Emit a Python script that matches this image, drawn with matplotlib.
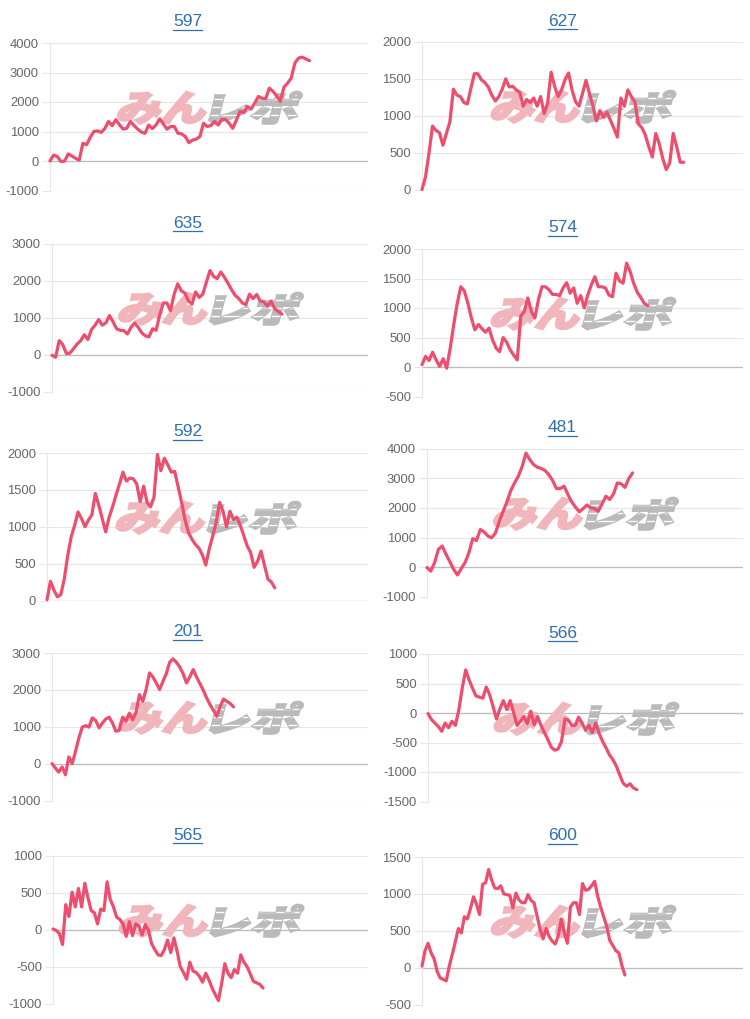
import matplotlib
matplotlib.use("Agg")
import matplotlib.pyplot as plt
from matplotlib.font_manager import FontProperties
from matplotlib.lines import Line2D
from matplotlib.patches import PathPatch
from matplotlib.textpath import TextPath
from matplotlib.transforms import Affine2D, IdentityTransform

plt.rcParams["font.family"] = ["Liberation Sans", "DejaVu Sans"]

W, H = 750, 1019

# ---- datos (saldo acumulado por maquina) ----
names = ["597", "627", "635", "574", "592", "481", "201", "566", "565", "600"]

s597 = [0, 200, 150, -20, 0, 240, 170, 90, 30, 600, 550, 800, 1000, 1020, 970,
        1100, 1340, 1200, 1400, 1230, 1080, 1110, 1340, 1200, 1080, 980, 940,
        1220, 1100, 1220, 1430, 1260, 1080, 1170, 1170, 940, 920, 830, 620, 710,
        740, 830, 1280, 1170, 1200, 1340, 1220, 1410, 1410, 1280, 1110, 1390,
        1680, 1640, 1850, 1760, 1960, 2190, 2130, 2110, 2470, 2360, 2210, 2020,
        2500, 2640, 2810, 3320, 3490, 3520, 3460, 3400]
s627 = [0, 170, 490, 860, 800, 770, 600, 760, 920, 1360, 1280, 1260, 1180, 1160,
        1370, 1570, 1570, 1490, 1450, 1390, 1280, 1200, 1260, 1360, 1500, 1390,
        1400, 1350, 1320, 1130, 1220, 1180, 1240, 1130, 1260, 1030, 1170, 1590,
        1400, 1260, 1350, 1490, 1580, 1350, 1190, 1130, 1300, 1480, 1300, 1130,
        930, 1070, 980, 1050, 940, 830, 710, 1240, 1130, 1350, 1260, 1190, 890,
        840, 740, 580, 440, 760, 620, 420, 270, 360, 760, 580, 370, 370]
s635 = [-20, -70, 380, 270, 30, 40, 160, 290, 380, 540, 410, 680, 800, 950, 800,
        860, 1060, 890, 700, 660, 650, 560, 740, 860, 740, 590, 510, 480, 700,
        660, 1080, 1400, 1400, 1190, 1630, 1920, 1730, 1670, 1460, 1370, 1700,
        1550, 1640, 1970, 2280, 2120, 2060, 2240, 2100, 1940, 1760, 1610, 1520,
        1400, 1360, 1640, 1520, 1630, 1450, 1430, 1310, 1450, 1250, 1170, 1100]
s574 = [40, 180, 110, 250, 120, 10, 140, -20, 320, 720, 1080, 1360, 1290, 1080,
        830, 630, 720, 650, 590, 660, 460, 320, 260, 500, 420, 290, 200, 120, 860,
        940, 1170, 940, 830, 1140, 1360, 1360, 1310, 1230, 1230, 1210, 1340, 1430,
        1250, 1340, 1080, 1210, 1000, 1220, 1390, 1530, 1360, 1360, 1340, 1220,
        1190, 1590, 1460, 1420, 1760, 1620, 1420, 1270, 1180, 1080, 1040]
s592 = [10, 260, 140, 50, 80, 290, 610, 860, 1020, 1200, 1110, 1000, 1090, 1160,
        1450, 1290, 1110, 930, 1130, 1270, 1430, 1580, 1740, 1620, 1660, 1650,
        1580, 1340, 1550, 1330, 1270, 1400, 1980, 1760, 1930, 1840, 1740, 1750,
        1540, 1330, 1090, 920, 830, 760, 710, 620, 480, 700, 870, 1060, 1330,
        1210, 1000, 1210, 1100, 1130, 1020, 880, 740, 650, 450, 530, 670, 480,
        290, 250, 170]
s481 = [-20, -140, 150, 600, 710, 430, 180, -80, -270, -50, 150, 480, 960, 900,
        1270, 1190, 1050, 990, 1160, 1550, 1890, 2210, 2590, 2850, 3080, 3410,
        3860, 3640, 3470, 3380, 3340, 3270, 3130, 2930, 2660, 2660, 2740, 2460,
        2210, 2030, 1870, 1980, 2100, 2010, 1980, 1890, 2140, 2400, 2290, 2480,
        2850, 2820, 2700, 3000, 3190]
s201 = [0, -120, -230, -90, -300, 180, 0, 330, 700, 990, 1030, 990, 1240, 1170,
        970, 1100, 1210, 1260, 1100, 880, 900, 1260, 1150, 1370, 1190, 1390, 1870,
        1690, 2010, 2460, 2350, 2190, 2010, 2230, 2440, 2750, 2840, 2750, 2620,
        2440, 2190, 2350, 2550, 2350, 2170, 1990, 1780, 1600, 1450, 1280, 1540,
        1750, 1690, 1630, 1540]
s566 = [-10, -110, -170, -230, -310, -170, -250, -140, -210, 50, 420, 730, 560,
        420, 290, 270, 250, 440, 310, 110, -100, 70, 210, 60, 210, 10, -210, -140,
        -60, -180, 30, -200, -60, -210, -330, -450, -580, -630, -610, -480, -100,
        -120, -210, -210, -70, -170, -290, -210, -330, -170, -350, -480, -590,
        -710, -790, -900, -1050, -1190, -1240, -1200, -1270, -1300]
s565 = [10, -10, -50, -200, 340, 180, 510, 310, 560, 310, 630, 430, 260, 230, 80,
        280, 260, 650, 410, 310, 170, 140, 80, -90, 110, -80, 80, 50, -70, 70, -10,
        -190, -270, -340, -350, -270, -140, -310, -110, -290, -500, -580, -670,
        -440, -560, -580, -630, -710, -590, -680, -790, -880, -960, -730, -460,
        -590, -650, -540, -590, -340, -440, -500, -600, -700, -720, -740, -790]
s600 = [20, 230, 330, 200, 120, -50, -140, -160, -180, 20, 180, 350, 530, 470,
        690, 660, 800, 960, 860, 720, 1130, 1150, 1330, 1190, 1080, 1070, 1110,
        1000, 990, 980, 810, 1010, 920, 880, 880, 990, 910, 880, 700, 520, 390,
        530, 420, 360, 320, 430, 660, 470, 330, 820, 880, 880, 720, 1140, 1050,
        1060, 1110, 1170, 970, 820, 690, 560, 370, 300, 230, 200, 30, -100]

series = [s597, s627, s635, s574, s592, s481, s201, s566, s565, s600]

y_ticks = [
    [-1000, 0, 1000, 2000, 3000, 4000],
    [0, 500, 1000, 1500, 2000],
    [-1000, 0, 1000, 2000, 3000],
    [-500, 0, 500, 1000, 1500, 2000],
    [0, 500, 1000, 1500, 2000],
    [-1000, 0, 1000, 2000, 3000, 4000],
    [-1000, 0, 1000, 2000, 3000],
    [-1500, -1000, -500, 0, 500, 1000],
    [-1000, -500, 0, 500, 1000],
    [-500, 0, 500, 1000, 1500],
]

# ---- disposicion (pixeles) ----
x_slots = [87, 92, 88, 91, 93, 83, 94, 92, 99, 106]
lefts = [50, 422, 52, 422, 47, 427, 52, 428, 53, 422]
tops = [43, 42, 244, 249, 453, 449, 653, 654, 856, 857]
rights = [368, 743]
alto = 147.5

COLOR_LINEA = "#ee4d6d"
COLOR_TITULO = "#2f6fad"
COLOR_GRID = "#e6e6e6"
COLOR_CERO = "#bcbcbc"

fuente_logo = FontProperties(family="Noto Sans CJK JP", weight="black")


def dibujar_logo(ax, cx, cy):
    """se dibuja la marca de agua (cx, cy en pixeles de pantalla)"""
    h = 32
    ancho = 87
    partes = [("みん", "#f0b6bc", cx - ancho - 2), ("レポ", "#bababa", cx + 3)]
    for texto, color, x0 in partes:
        path = TextPath((0, 0), texto, size=40, prop=fuente_logo)
        ext = path.get_extents()
        tr = (Affine2D().translate(-ext.x0, -ext.y0)
              .scale(ancho / ext.width, h / ext.height)
              .skew_deg(14, 0)
              .translate(x0 - 4, cy - h / 2))
        # el borde del mismo color engrosa las letras
        parche = PathPatch(path, transform=tr, fc=color, ec=color, lw=1.6,
                           zorder=1.5, clip_on=False)
        ax.add_patch(parche)
        if texto == "レポ":
            # rayas blancas sobre la parte gris
            for dy in (-7, 1, 9):
                raya = Line2D([x0 - 10, x0 + ancho + 12], [cy + dy, cy + dy],
                              transform=IdentityTransform(), color="white",
                              lw=1.0, zorder=1.6)
                raya.set_clip_path(parche)
                ax.add_line(raya)


fig = plt.figure(figsize=(W / 100, H / 100), dpi=100)
renderer = fig.canvas.get_renderer()

for i, (nombre, valores, ticks) in enumerate(zip(names, series, y_ticks)):
    col = i % 2
    l = lefts[i]
    r = rights[col]
    t = tops[i]
    ax = fig.add_axes([l / W, 1 - (t + alto) / H, (r - l) / W, alto / H])
    ax.patch.set_alpha(0)

    xs = list(range(len(valores)))
    ax.plot(xs, valores, color=COLOR_LINEA, lw=2.3, solid_joinstyle="round",
            solid_capstyle="round", clip_on=False, zorder=3)

    # marca de agua centrada en el area del grafico
    bb = ax.get_window_extent()
    dibujar_logo(ax, (bb.x0 + bb.x1) / 2, (bb.y0 + bb.y1) / 2 + 9)

    ax.set_xlim(0, x_slots[i])
    ax.set_ylim(ticks[0], ticks[-1])
    ax.set_xticks([])
    ax.set_yticks(ticks)
    ax.set_yticklabels([str(v) for v in ticks])
    ax.yaxis.grid(True, color=COLOR_GRID, lw=0.8, zorder=0)
    ax.set_axisbelow(True)
    if ticks[0] <= 0 <= ticks[-1]:
        ax.axhline(0, color=COLOR_CERO, lw=0.9, zorder=1)
    for lado in ("top", "right", "bottom"):
        ax.spines[lado].set_visible(False)
    ax.spines["left"].set_color(COLOR_GRID)
    ax.spines["left"].set_linewidth(0.8)
    ax.tick_params(axis="y", length=5.5, width=0.8, color=COLOR_GRID,
                   labelcolor="#666666", labelsize=9.4, pad=2.5)

    # titulo subrayado (como enlace)
    cx = (col * 375 + 187.5) / W
    txt = fig.text(cx, 1 - (t - 21) / H, nombre, ha="center", va="center",
                   color=COLOR_TITULO, fontsize=12.5)
    tb = txt.get_window_extent(renderer)
    y_sub = tb.y0 - 0.5
    fig.add_artist(Line2D([tb.x0 / W, tb.x1 / W], [y_sub / H, y_sub / H],
                          transform=fig.transFigure, color=COLOR_TITULO, lw=0.9))

fig.savefig("out.png", dpi=100)
